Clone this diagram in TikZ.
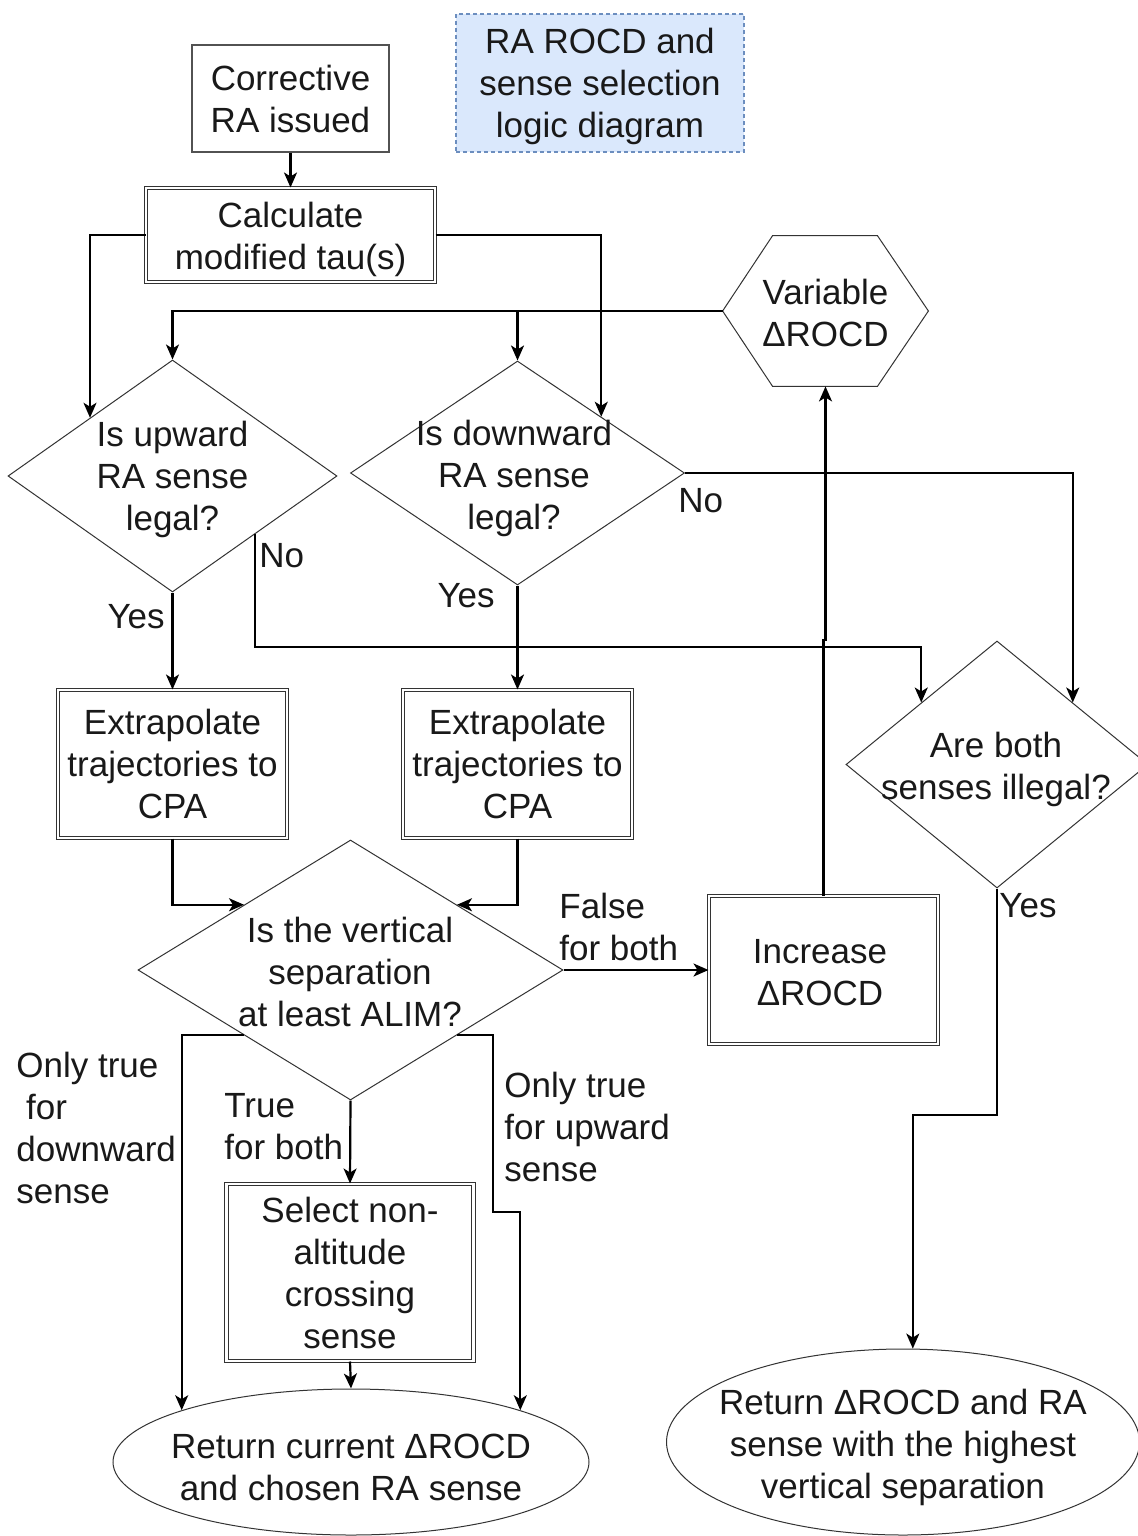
\documentclass[tikz,border=0pt]{standalone}
\usepackage{fontspec}
\setmainfont{Liberation Sans}
\usetikzlibrary{shapes.geometric,arrows.meta,calc}
\definecolor{bord}{HTML}{333333}
\definecolor{tfill}{HTML}{DAE8FC}
\definecolor{tbord}{HTML}{6C8EBF}
\begin{document}
\begin{tikzpicture}[x=0.5pt,y=-0.5pt,
  every node/.style={font=\fontsize{17.5}{21}\selectfont, align=center, inner sep=0pt, text=black!90},
  plainbox/.style={draw=bord!85, line width=0.6pt, rectangle},
  dblbox/.style={draw=bord, double, double distance=1.3pt, line width=0.5pt, rectangle},
  decision/.style={diamond, draw=bord, line width=0.5pt},
  term/.style={ellipse, draw=bord, line width=0.5pt},
  titlebox/.style={rectangle, fill=tfill, draw=tbord, line width=0.6pt, dash pattern=on 2pt off 1.5pt},
  edge/.style={draw=black, line width=1.1pt, -{Stealth[length=7.5pt,width=6.5pt,inset=2pt]}},
  lbl/.style={align=left}]
\useasboundingbox (0,0) rectangle (1138,1536);
\fill[white] (0,0) rectangle (1138,1536);

% nodes
\node[plainbox, minimum width=98.5pt, minimum height=53.5pt] (corr) at (290.5,98.5) {Corrective\\RA issued};
\node[titlebox, minimum width=144pt, minimum height=69pt] (title) at (600,83) {};
\node (titlet) at (600,86) {RA ROCD and\\sense selection\\logic diagram};
\node[dblbox, minimum width=144.5pt, minimum height=47pt] (calc) at (290.5,235) {};
\node (calct) at (290.5,239) {Calculate\\modified tau(s)};

\node[minimum width=102.5pt, minimum height=75pt] (var) at (825.5,311) {};
\node (vart) at (825.5,313) {Variable\\ΔROCD};
\draw[bord, line width=0.5pt] (var.west) -- ($(var.north west)+(50,0)$) -- ($(var.north east)+(-51,0)$) -- (var.east)
  -- ($(var.south east)+(-51,0)$) -- ($(var.south west)+(50,0)$) -- cycle;

\node[decision, minimum width=164.5pt, minimum height=116pt] (upd) at (172.5,476) {};
\node (updt) at (172.5,479) {Is upward\\RA sense\\legal?};
\node[decision, minimum width=167pt, minimum height=112pt] (dnd) at (517.5,473) {};
\node (dndt) at (514,478) {Is downward\\RA sense\\legal?};

\node[dblbox, minimum width=114.5pt, minimum height=74pt] (extl) at (172.5,764) {Extrapolate\\trajectories to\\CPA};
\node[dblbox, minimum width=114.5pt, minimum height=74pt] (extr) at (517.5,764) {Extrapolate\\trajectories to\\CPA};

\node[decision, minimum width=151pt, minimum height=123.5pt] (both) at (997,764.5) {};
\node (botht) at (996,769) {Are both\\senses illegal?};

\node[decision, minimum width=212.5pt, minimum height=130pt] (vsd) at (350.5,970) {};
\node (vsdt) at (350,971.5) {Is the vertical\\separation\\at least ALIM?};

\node[dblbox, minimum width=114.5pt, minimum height=74pt] (inc) at (823.5,970) {};
\node (inct) at (820,973) {Increase\\ΔROCD};
\node[dblbox, minimum width=123.5pt, minimum height=88.5pt] (sel) at (350,1272.5) {Select non-\\altitude\\crossing\\sense};

\node[term, minimum width=238pt, minimum height=73pt] (retc) at (351,1462) {};
\node (retct) at (351,1467) {Return current ΔROCD\\and chosen RA sense};
\node[term, minimum width=236.5pt, minimum height=93pt] (reth) at (903,1442) {};
\node (retht) at (903,1447) {Return ΔROCD and RA\\sense with the highest\\vertical separation};

% helper coordinates
\coordinate (nob) at (255,647);
\coordinate (jog) at (823.5,640);
\coordinate (rj) at (493,1212);
\coordinate (yj) at (913,1115);

% connectors
\draw[edge] (corr.south) -- (calc.north);
\draw[edge] (calc.west) -| (upd.north west);
\draw[edge] (calc.east) -| (dnd.north east);
\draw[edge] (var.west) -| (upd.north);
\draw[edge] (var.west) -| (dnd.north);
\draw[edge] (upd.south) -- (extl.north);
\draw[edge] (upd.south east) -- (upd.south east |- nob) -| (both.north west);
\draw[edge] (dnd.east) -| (both.north east);
\draw[edge] (dnd.south) -- (extr.north);
\draw[edge] (extl.south) |- (vsd.north west);
\draw[edge] (extr.south) |- (vsd.north east);
\draw[edge] (vsd.east) -- (inc.west);
\draw[edge] (inc.north) -- (jog) -| (var.south);
\draw[edge] (vsd.south west) -| (retc.163);
\draw[edge] (vsd.south) -- (sel.north);
\draw[edge] (vsd.south east) -| (rj) -| (retc.17);
\draw[edge] (sel.south) -- (retc.north);
\draw[edge] (both.south) |- (yj) -| (reth.84);

% labels
\node[anchor=east] (yes1) at (165,617) {Yes};
\node[anchor=west] (no1) at (259,556) {No};
\node[anchor=west] (no2) at (678,501) {No};
\node[anchor=east] (yes2) at (495,596) {Yes};
\node[anchor=west, lbl] (ff) at (559,927) {False\\for both};
\node[anchor=west] (yes3) at (999,906) {Yes};
\node[anchor=west, lbl] (od) at (16,1128) {Only true\\\ for\\downward\\sense};
\node[anchor=west, lbl] (tb) at (224,1127) {True\\for both};
\node[anchor=west, lbl] (ou) at (504,1127) {Only true\\for upward\\sense};
\end{tikzpicture}
\end{document}
